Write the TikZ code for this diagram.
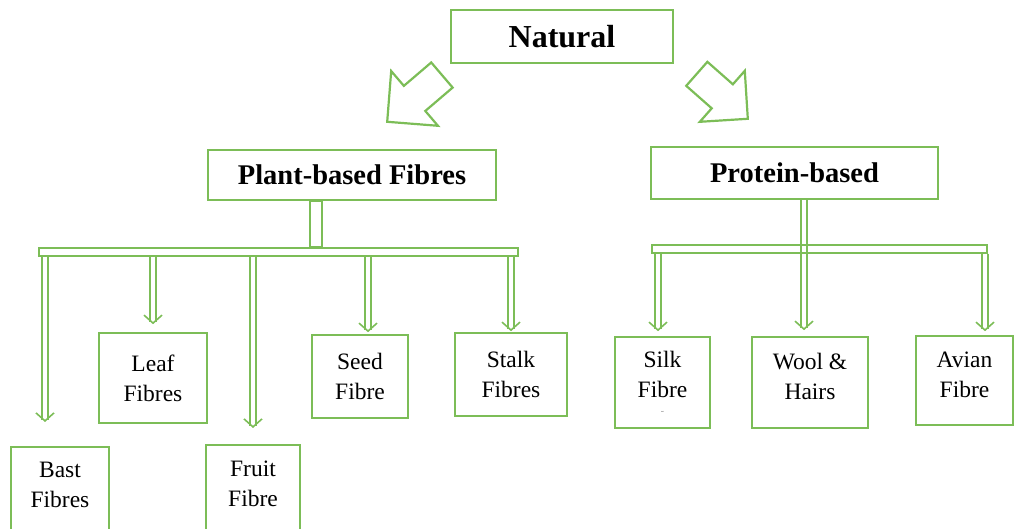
\documentclass[tikz,border=0pt]{standalone}
\usepackage{fontspec}
\setmainfont{Liberation Serif}
\usepackage{tikz}
\usetikzlibrary{positioning, arrows.meta}
\definecolor{fibregreen}{HTML}{7CBD57}

\tikzset{
  box/.style={draw=fibregreen, line width=1.6pt, align=center, inner sep=2pt,
              font=\fontsize{23.5}{30}\selectfont},
  headbox/.style={box, font=\fontsize{28.5}{34}\selectfont\bfseries},
  barbox/.style={draw=fibregreen, line width=1.5pt, inner sep=0pt, minimum height=8pt},
  hollow/.style={draw=fibregreen, line width=1.5pt},
  dblarrow/.style={draw=fibregreen, line width=1.5pt, double=white, double distance=4.5pt,
                   -{Straight Barb[length=8pt, width=18pt, line width=1.6pt]}},
  bigarrow/.style={draw=fibregreen, line width=2.2pt, line join=miter},
}

\begin{document}
\begin{tikzpicture}[x=1pt, y=1pt]
    \useasboundingbox (0,0) rectangle (1019,529);

    % top levels
    \node[headbox, font=\fontsize{32}{36}\selectfont\bfseries,
          minimum width=222pt, minimum height=53pt] (natural) at (562,492.5) {Natural};
    \node[headbox, minimum width=288pt, minimum height=50pt] (plant) at (352,354) {Plant-based Fibres};
    \node[headbox, minimum width=287pt, minimum height=52pt] (protein) at (794.5,356) {Protein-based};

    % big hollow arrows
    \draw[bigarrow, shift={(natural.south west)}, shift={(-63,-58)}, rotate=220.5]
      (0,0) -- (-36,36) -- (-36,16.5) -- (-72,16.5) -- (-72,-16.5) -- (-36,-16.5) -- (-36,-36) -- cycle;
    \draw[bigarrow, shift={(natural.south east)}, shift={(74,-55)}, rotate=-41.4]
      (0,0) -- (-34,34) -- (-34,16) -- (-68,16) -- (-68,-16) -- (-34,-16) -- (-34,-34) -- cycle;

    % plant-based fibres
    \node[box, minimum width=98pt, minimum height=90pt, anchor=north] (bast) at (60,83) {Bast\\Fibres\\[-17pt]};
    \node[box, minimum width=108pt, minimum height=90pt] (leaf) at (153,151) {Leaf\\Fibres};
    \node[box, minimum width=94pt, minimum height=90pt, anchor=north] (fruit) at (253,85) {Fruit\\Fibre\\[-17pt]};
    \node[box, minimum width=96pt, minimum height=83pt] (seed) at (360,152.5) {Seed\\Fibre};
    \node[box, minimum width=112pt, minimum height=83pt] (stalk) at (511,154.5) {Stalk\\Fibres};

    % protein-based fibres
    \node[box, minimum width=95pt, minimum height=91pt] (silk) at (662.5,146.5) {Silk\\Fibre\\[-14pt]{\tiny\textasciitilde}};
    \node[box, minimum width=116pt, minimum height=91pt] (wool) at (810,146.5) {Wool \&\\Hairs\\[-18pt]};
    \node[box, minimum width=97pt, minimum height=89pt] (avian) at (964.5,148.5) {Avian\\Fibre\\[-18pt]};

    % x positions of the branches
    \coordinate (pstemL) at (310,0);
    \coordinate (pstemR) at (322,0);
    \coordinate (xbast) at (45,0);
    \coordinate (xseed) at (368,0);
    \coordinate (xsilk) at (658,0);
    \coordinate (xwool) at (804,0);
    \coordinate (xavian) at (985,0);

    % protein stem runs under its bar
    \draw[dblarrow, shorten >=6pt] (protein.south -| xwool) -- (wool.north -| xwool);

    \node[barbox, minimum width=479pt] (plantbar) at (278.5,277) {};
    \node[barbox, minimum width=335pt] (protbar) at (819.5,280) {};

    \draw[hollow] (plant.south -| pstemL) rectangle (plantbar.north -| pstemR);

    \draw[dblarrow, shorten >=24pt] (plantbar.south -| xbast) -- (bast.north -| xbast);
    \draw[dblarrow, shorten >=8pt] (plantbar.south -| leaf) -- (leaf.north);
    \draw[dblarrow, shorten >=16pt] (plantbar.south -| fruit) -- (fruit.north);
    \draw[dblarrow, shorten >=2pt] (plantbar.south -| xseed) -- (seed.north -| xseed);
    \draw[dblarrow, shorten >=1pt] (plantbar.south -| stalk) -- (stalk.north);

    \draw[dblarrow, shorten >=5pt] (protbar.south -| xsilk) -- (silk.north -| xsilk);
    \draw[dblarrow, shorten >=4pt] (protbar.south -| xavian) -- (avian.north -| xavian);
\end{tikzpicture}
\end{document}
